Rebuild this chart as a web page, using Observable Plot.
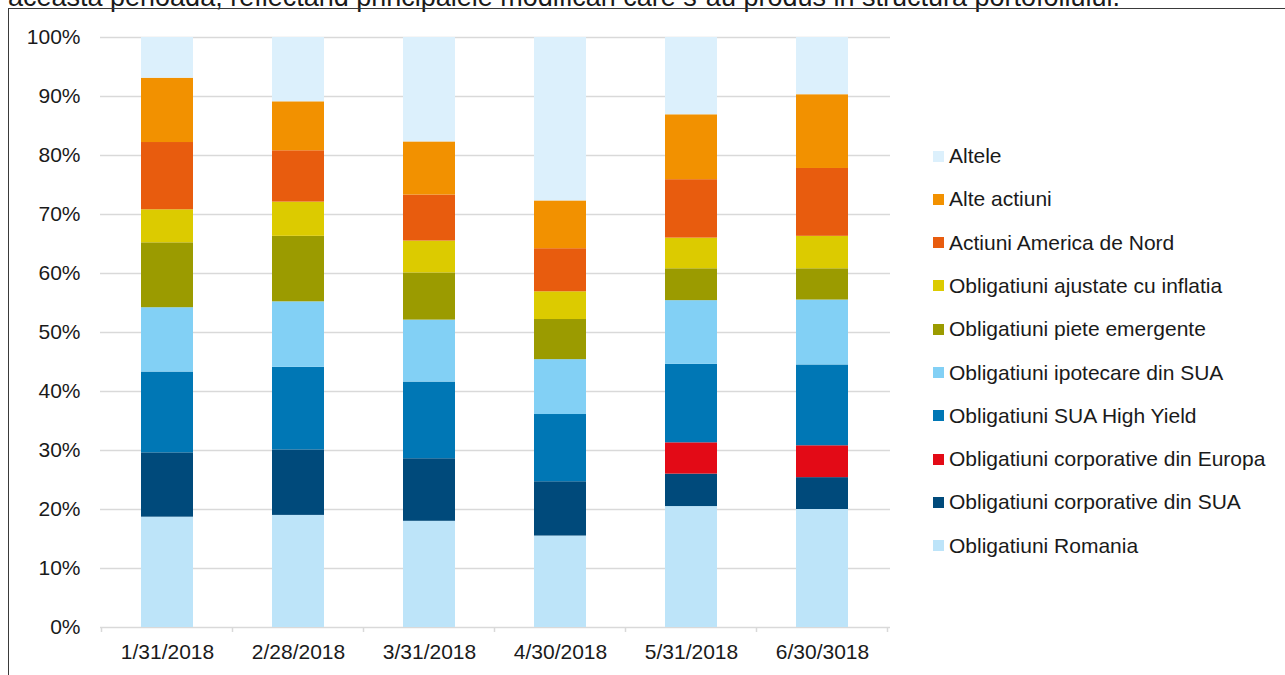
<!DOCTYPE html>
<html>
<head>
<meta charset="utf-8">
<script src="https://cdn.jsdelivr.net/npm/d3@7"></script>
<script src="https://cdn.jsdelivr.net/npm/@observablehq/plot@0.6"></script>
<style>
  html, body { margin: 0; padding: 0; background: #fff; overflow: hidden; }
  #wrap { position: relative; width: 1285px; height: 675px; font-family: "Liberation Sans", Arial, sans-serif; color: #1a1a1a; }
  #intro { position: absolute; left: 8px; top: -16px; font-size: 27px; line-height: 27px; white-space: nowrap; }
  #frame { position: absolute; left: 8px; top: 8px; width: 1290px; height: 680px; border-left: 1px solid #3a3a3a; border-top: 1px solid #3a3a3a; pointer-events: none; }
  #chart { position: absolute; left: 0; top: 0; }
  #legend { position: absolute; left: 933px; top: 0; font-size: 21px; }
  .item { position: absolute; left: 0; display: flex; align-items: center; white-space: nowrap; height: 24px; }
  .sw { width: 11px; height: 11px; margin-right: 5px; flex: none; }
</style>
</head>
<body>
<div id="wrap">
  <div id="chart"></div>
  <div id="intro">aceasta perioada, reflectand principalele modificari care s-au produs in structura portofoliului.</div>
  <div id="frame"></div>
  <div id="legend"></div>
</div>
<script>
// ---- data ----
const dates = ["1/31/2018", "2/28/2018", "3/31/2018", "4/30/2018", "5/31/2018", "6/30/3018"];
const series = [
  "Obligatiuni Romania",
  "Obligatiuni corporative din SUA",
  "Obligatiuni corporative din Europa",
  "Obligatiuni SUA High Yield",
  "Obligatiuni ipotecare din SUA",
  "Obligatiuni piete emergente",
  "Obligatiuni ajustate cu inflatia",
  "Actiuni America de Nord",
  "Alte actiuni",
  "Altele"
];
const colors = ["#bde4f9", "#004a7b", "#e30a16", "#0077b5", "#82d0f5", "#9b9b00", "#dccb00", "#e85c0e", "#f29100", "#dcf0fc"];
const romania   = [18.7, 19.0, 18.0, 15.5, 20.5, 20.0];
const corpSUA   = [10.9, 11.1, 10.6,  9.2,  5.5,  5.4];
const corpEur   = [ 0.0,  0.0,  0.0,  0.0,  5.3,  5.4];
const highYield = [13.7, 14.0, 13.0, 11.4, 13.3, 13.7];
const ipotecare = [10.9, 11.1, 10.5,  9.3, 10.8, 11.0];
const emergente = [11.0, 11.1,  8.0,  6.8,  5.4,  5.3];
const inflatie  = [ 5.6,  5.8,  5.4,  4.7,  5.2,  5.5];
const americaN  = [11.4,  8.7,  7.8,  7.3,  9.9, 11.5];
const alteAct   = [10.9,  8.3,  9.0,  8.1, 11.0, 12.5];
const altele    = [ 6.9, 10.9, 17.7, 27.7, 13.1,  9.7];
const yTicks = [0, 0.1, 0.2, 0.3, 0.4, 0.5, 0.6, 0.7, 0.8, 0.9, 1.0];

const valuesBySeries = [romania, corpSUA, corpEur, highYield, ipotecare, emergente, inflatie, americaN, alteAct, altele];
const table = [];
series.forEach((s, si) => {
  dates.forEach((d, di) => {
    table.push({date: d, series: s, value: valuesBySeries[si][di] / 100});
  });
});

const grid = "#d9d9d9";

// boundary tick marks of the band x axis, derived from the band scale
function bandTicks(index, scales, values, dims) {
  const x = scales.x, y = scales.y;
  const dom = x.domain();
  const bw = x.bandwidth();
  const step = dom.length > 1 ? x(dom[1]) - x(dom[0]) : bw;
  const gap = (step - bw) / 2;
  const xs = dom.map(d => x(d) - gap);
  xs.push(x(dom[dom.length - 1]) + bw + gap);
  const y0 = y(0);
  const g = d3.create("svg:g");
  g.selectAll("line").data(xs).join("line")
    .attr("x1", d => d).attr("x2", d => d)
    .attr("y1", y0).attr("y2", y0 + 5)
    .attr("stroke", grid).attr("stroke-width", 1.5);
  return g.node();
}

const chart = Plot.plot({
  width: 1285,
  height: 675,
  marginLeft: 100,
  marginRight: 395,
  marginTop: 37,
  marginBottom: 48,
  style: {background: "transparent", fontFamily: "'Liberation Sans', Arial, sans-serif", fontSize: "21px", color: "#1a1a1a", overflow: "visible"},
  x: {domain: dates, paddingInner: 0.6, paddingOuter: 0.3, tickSize: 0, tickPadding: 17, label: null},
  y: {domain: [0, 1], ticks: 10, tickFormat: d3.format(".0%"), tickSize: 0, tickPadding: 20, label: null},
  color: {domain: series, range: colors},
  marks: [
    Plot.ruleY(yTicks, {stroke: grid, strokeWidth: 1.5, strokeOpacity: 1}),
    Plot.barY(table, {x: "date", y: "value", fill: "series", order: series}),
    bandTicks
  ]
});
document.getElementById("chart").appendChild(chart);

// legend (top to bottom: reverse stacking order)
const legend = document.getElementById("legend");
series.slice().reverse().forEach((s, i) => {
  const idx = series.indexOf(s);
  const row = document.createElement("div");
  row.className = "item";
  row.style.top = (156 + i * 43.3 - 12) + "px";
  const sw = document.createElement("span");
  sw.className = "sw";
  sw.style.background = colors[idx];
  const tx = document.createElement("span");
  tx.textContent = s;
  row.appendChild(sw);
  row.appendChild(tx);
  legend.appendChild(row);
});
</script>
</body>
</html>
